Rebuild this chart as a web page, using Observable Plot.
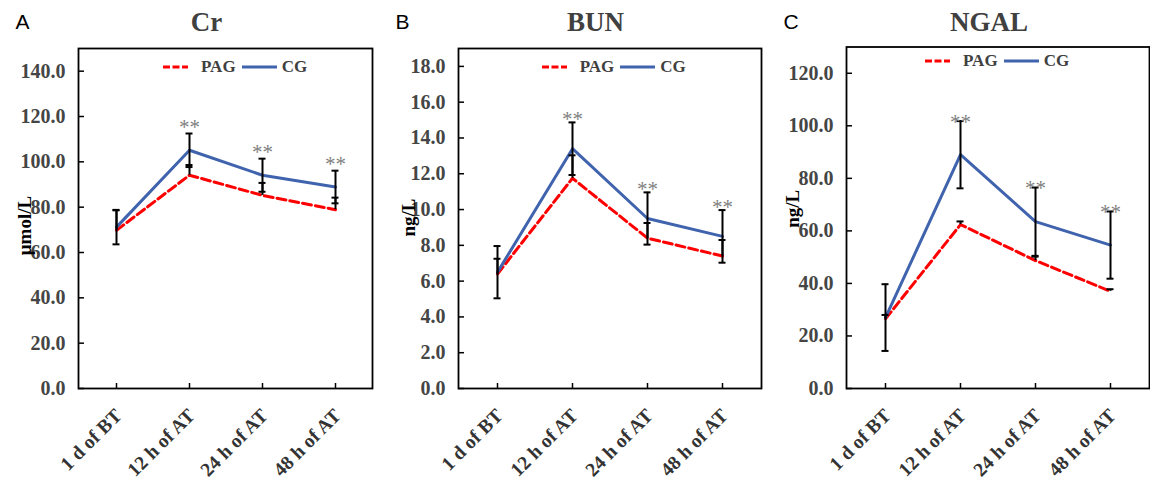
<!DOCTYPE html>
<html><head><meta charset="utf-8">
<script src="https://cdn.jsdelivr.net/npm/d3@7"></script>
<script src="https://cdn.jsdelivr.net/npm/@observablehq/plot@0.6"></script>
<style>
body{margin:0;background:#fff;}
#wrap{position:relative;width:1150px;height:484px;overflow:hidden;background:#fff;}
.panel{position:absolute;top:0;}
.legend{position:absolute;display:flex;align-items:center;height:20px;font:bold 17px "Liberation Serif";color:#404040;white-space:nowrap;}
.legend svg{display:block;}
</style></head><body><div id="wrap"></div>
<script>
// ---- data ----
const timepoints = ["1 d of BT", "12 h of AT", "24 h of AT", "48 h of AT"];
const sigMarks = ["", "**", "**", "**"];
const seriesNames = ["PAG", "CG"];

const crPAG = [69.8, 94.1, 85.2, 78.9];
const crPAGErr = [8.8, 4.5, 5.5, 5.3];
const crCG = [71.2, 105.1, 94.1, 88.9];
const crCGErr = [7.6, 7.4, 7.3, 7.2];
const crTicks = [0, 20, 40, 60, 80, 100, 120, 140];

const bunPAG = [6.4, 11.75, 8.4, 7.4];
const bunPAGErr = [0.85, 1.28, 0.85, 0.9];
const bunCG = [6.5, 13.4, 9.5, 8.5];
const bunCGErr = [1.46, 1.47, 1.46, 1.47];
const bunTicks = [0, 2, 4, 6, 8, 10, 12, 14, 16, 18];

const ngalPAG = [26.5, 62.4, 48.7, 37.0];
const ngalPAGErr = [1.5, 1.2, 1.5, 0.8];
const ngalCG = [27, 89, 63.5, 54.6];
const ngalCGErr = [12.7, 12.8, 13, 12.8];
const ngalTicks = [0, 20, 40, 60, 80, 100, 120];

const RED = "#FF0000", BLUE = "#4063AE";

const panels = [
  {letter: "A", title: "Cr", ylabel: "μmol/L", domain: [0, 150], ticks: crTicks,
   pag: crPAG, pagErr: crPAGErr, cg: crCG, cgErr: crCGErr,
   L: {left: 0, width: 385, height: 484, ml: 78, mr: 13, mt: 48, mb: 96,
       titleDx: -19, titleDy: -26, letterDx: -63, letterDy: -26.5, ylDx: -54, ylDy: 7, starDy: -6,
       legLeft: 163, legCy: 67}},
  {letter: "B", title: "BUN", ylabel: "ng/L", domain: [0, 19], ticks: bunTicks,
   pag: bunPAG, pagErr: bunPAGErr, cg: bunCG, cgErr: bunCGErr,
   L: {left: 385, width: 385, height: 484, ml: 73, mr: 9, mt: 48, mb: 96,
       titleDx: -14.5, titleDy: -26, letterDx: -63, letterDy: -26.5, ylDx: -50, ylDy: -1, starDy: -3,
       legLeft: 541.7, legCy: 67}},
  {letter: "C", title: "NGAL", ylabel: "ng/L", domain: [0, 130], ticks: ngalTicks,
   pag: ngalPAG, pagErr: ngalPAGErr, cg: ngalCG, cgErr: ngalCGErr,
   L: {left: 770, width: 380, height: 484, ml: 76, mr: 1, mt: 46.5, mb: 96,
       titleDx: -9, titleDy: -24.5, letterDx: -63, letterDy: -25, ylDx: -53.5, ylDy: -9, starDy: 1,
       legLeft: 925, legCy: 60.7}}
];

const wrap = document.getElementById("wrap");

function makePanel(cfg) {
  const L = cfg.L;
  const rows = timepoints.map((t, i) => ({t, pag: cfg.pag[i], pe: cfg.pagErr[i], cg: cfg.cg[i], ce: cfg.cgErr[i], sig: sigMarks[i]}));
  const plotW = L.width - L.ml - L.mr, plotH = L.height - L.mt - L.mb;
  const cap = -3.5;
  const barStyle = {stroke: "#000", strokeWidth: 2};
  const chart = Plot.plot({
    width: L.width, height: L.height,
    marginLeft: L.ml, marginRight: L.mr, marginTop: L.mt, marginBottom: L.mb,
    style: {fontFamily: "Liberation Serif", background: "transparent", overflow: "visible"},
    x: {type: "point", domain: timepoints, padding: 0.5, label: null},
    y: {domain: cfg.domain, label: null},
    marks: [
      Plot.axisY(cfg.ticks, {tickSize: 0, tickPadding: 13, tickFormat: d3.format(".1f"), fontSize: 20, fontWeight: "bold", color: "#454545", label: null}),
      Plot.axisX(timepoints, {tickSize: 0, tickPadding: 24, tickRotate: -45, textAnchor: "end", lineAnchor: "middle", fontSize: 19.5, fontWeight: "bold", color: "#333", dx: 2, label: null}),
      Plot.ruleY(cfg.ticks, {y: d => d, insetRight: plotW - 6, stroke: "#000", strokeWidth: 1.5}),
      Plot.ruleX(timepoints, {x: d => d, insetTop: plotH - 5, stroke: "#000", strokeWidth: 1.5}),
      Plot.lineY(rows, {x: "t", y: "pag", stroke: RED, strokeWidth: 3, strokeDasharray: "9,4"}),
      Plot.lineY(rows, {x: "t", y: "cg", stroke: BLUE, strokeWidth: 3}),
      // CG error bars (both directions)
      Plot.ruleX(rows, {x: "t", y1: d => d.cg - d.ce, y2: d => d.cg + d.ce, ...barStyle}),
      Plot.ruleY(rows, {x1: "t", x2: "t", y: d => d.cg + d.ce, insetLeft: cap, insetRight: cap, ...barStyle}),
      Plot.ruleY(rows, {x1: "t", x2: "t", y: d => d.cg - d.ce, insetLeft: cap, insetRight: cap, ...barStyle}),
      // PAG error bars (plus direction)
      Plot.ruleX(rows, {x: "t", y1: "pag", y2: d => d.pag + d.pe, ...barStyle}),
      Plot.ruleY(rows, {x1: "t", x2: "t", y: d => d.pag + d.pe, insetLeft: cap, insetRight: cap, ...barStyle}),
      Plot.text(rows, {x: "t", y: d => d.cg + d.ce, text: "sig", dy: L.starDy, fontSize: 21, fill: "#808080", lineAnchor: "middle", textAnchor: "middle"}),
      Plot.frame({stroke: "#000", strokeWidth: 1.8}),
      Plot.text([cfg.title], {frameAnchor: "top", text: d => d, dx: L.titleDx, dy: L.titleDy, textAnchor: "middle", lineAnchor: "middle", fontSize: 27, fontWeight: "bold", fill: "#404040"}),
      Plot.text([cfg.letter], {frameAnchor: "top-left", text: d => d, textAnchor: "start", dx: L.letterDx, dy: L.letterDy, lineAnchor: "middle", fontSize: 21, fontFamily: "Liberation Sans", fill: "#000"}),
      Plot.text([cfg.ylabel], {frameAnchor: "left", text: d => d, rotate: -90, dx: L.ylDx, dy: L.ylDy, textAnchor: "middle", lineAnchor: "middle", fontSize: 19, fontWeight: "bold", fill: "#000"})
    ]
  });
  const div = document.createElement("div");
  div.className = "panel";
  div.style.left = L.left + "px";
  div.appendChild(chart);
  wrap.appendChild(div);

  // legend (inside plot area)
  const leg = document.createElement("div");
  leg.className = "legend";
  leg.style.left = L.legLeft + "px";
  leg.style.top = (L.legCy - 10) + "px";
  leg.innerHTML =
    `<svg width="25" height="20"><line x1="0" y1="10" x2="25" y2="10" stroke="${RED}" stroke-width="3" stroke-dasharray="7,2.5"/></svg>` +
    `<span style="margin-left:13px">${seriesNames[0]}</span>` +
    `<svg width="35" height="20" style="margin-left:6px"><line x1="0" y1="10" x2="35" y2="10" stroke="${BLUE}" stroke-width="3"/></svg>` +
    `<span style="margin-left:5px">${seriesNames[1]}</span>`;
  wrap.appendChild(leg);
}

panels.forEach(makePanel);
</script>
</body></html>
